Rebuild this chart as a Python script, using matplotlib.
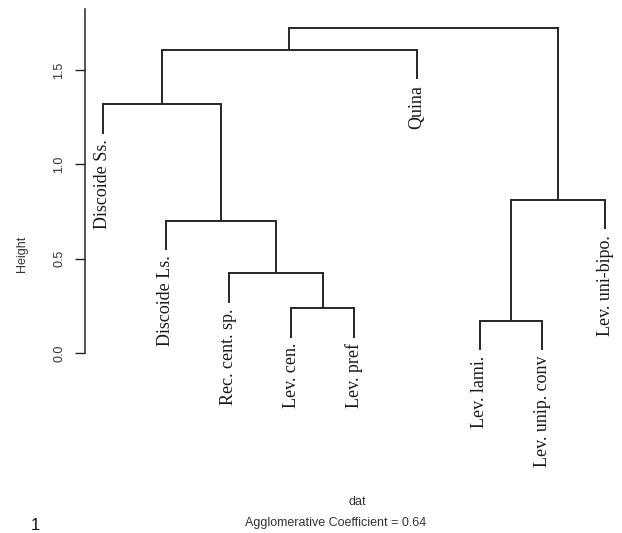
import matplotlib
matplotlib.use("Agg")
import matplotlib.pyplot as plt

# ---- data ----
leaf_labels = ["Discoide Ss.", "Discoide Ls.", "Rec. cent. sp.", "Lev. cen.",
               "Lev. pref", "Quina", "Lev. lami.", "Lev. unip. conv", "Lev. uni-bipo."]
# R-style merge matrix: negative = leaf (1-based position), positive = earlier merge row
merge_left = [-4, -7, -3, -2, 2, -1, 6, 7]
merge_right = [-5, -8, 1, 3, -9, 4, -6, 5]
merge_height = [0.237, 0.171, 0.422, 0.701, 0.811, 1.318, 1.606, 1.723]
y_ticks = [0.0, 0.5, 1.0, 1.5]
y_tick_labels = ["0.0", "0.5", "1.0", "1.5"]
ac_value = 0.64

W, H = 622, 533
fig = plt.figure(figsize=(W / 100, H / 100), dpi=100)
left_px, right_px, top_px, bot_px = 85, 615, 9, 353
ax = fig.add_axes([left_px / W, (H - bot_px) / H, (right_px - left_px) / W, (bot_px - top_px) / H])
ax.set_xlim(0.7132, 9.159)
ax.set_ylim(0, 1.823)

line_col = "#262626"
lw = 1.4
hang = 0.1 * (max(merge_height) - min(merge_height))

node_x = {}
def child_info(c):
    if c < 0:
        return float(-c), None
    return node_x[c], merge_height[c - 1]

leaf_end = {}
for i, (a, b, h) in enumerate(zip(merge_left, merge_right, merge_height), start=1):
    xs = []
    for c in (a, b):
        cx, ch = child_info(c)
        if ch is None:
            bottom = h - hang
            leaf_end[-c] = bottom
        else:
            bottom = ch
        ax.plot([cx, cx], [h, bottom], color=line_col, lw=lw, solid_capstyle="butt", clip_on=False)
        xs.append(cx)
    ax.plot([xs[0], xs[1]], [h, h], color=line_col, lw=lw, solid_capstyle="projecting", clip_on=False)
    node_x[i] = (xs[0] + xs[1]) / 2

serif = ["Liberation Serif", "DejaVu Serif"]
for pos, lab in enumerate(leaf_labels, start=1):
    ax.annotate(lab, (pos, leaf_end[pos]), xytext=(0, -4), textcoords="offset points",
                rotation=90, ha="center", va="top", fontsize=13, family=serif,
                color="#1a1a1a", annotation_clip=False)

for s in ["top", "right", "bottom"]:
    ax.spines[s].set_visible(False)
ax.spines["left"].set_color(line_col)
ax.spines["left"].set_linewidth(1.1)
ax.set_xticks([])
ax.set_yticks(y_ticks)
ax.set_yticklabels(y_tick_labels, rotation=90, va="center", family="Liberation Sans",
                   fontsize=9, color="#333333")
ax.tick_params(axis="y", length=7, width=1.0, color=line_col, pad=7)

sans = "Liberation Sans"
fig.text(22 / W, 1 - 254 / H, "Height", rotation=90, ha="center", va="center",
         family=sans, fontsize=9, color="#333333")
fig.text(357 / W, 1 - 502 / H, "dat", ha="center", va="center", family=sans,
         fontsize=9, color="#333333")
fig.text(336 / W, 1 - 523 / H, f"Agglomerative Coefficient = {ac_value:.2f}", ha="center",
         va="center", family=sans, fontsize=9, color="#333333")
fig.text(35 / W, 1 - 525 / H, "1", ha="center", va="center", family=sans,
         fontsize=12, color="#111111")

fig.savefig("out.png", dpi=100)
